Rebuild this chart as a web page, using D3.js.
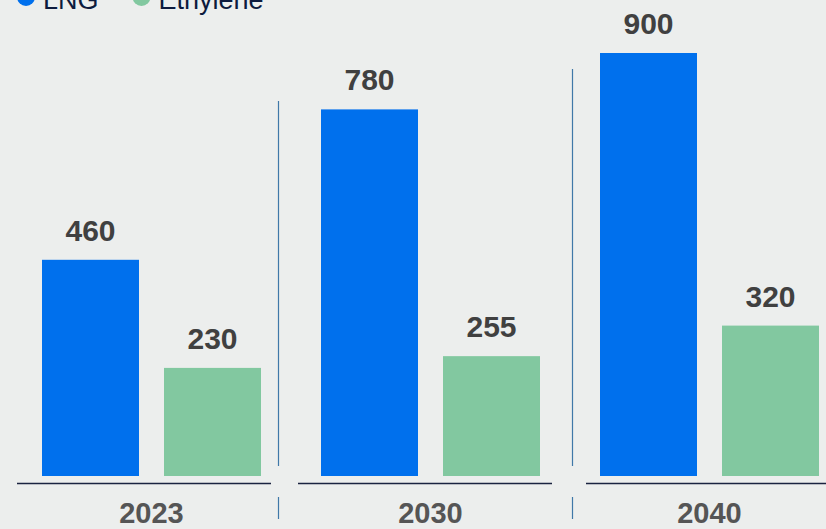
<!DOCTYPE html>
<html>
<head>
<meta charset="utf-8">
<script src="https://cdn.jsdelivr.net/npm/d3@7"></script>
<style>
  body { margin: 0; background: #eceeed; }
  svg { display: block; font-family: "Liberation Sans", Arial, sans-serif; }
</style>
</head>
<body>
<div id="chart"></div>
<script>
// chart values
var years = ["2023", "2030", "2040"];
var series = ["LNG", "Ethylene"];
var lngValues = [460, 780, 900];
var ethyleneValues = [230, 255, 320];
var colors = ["#0070ed", "#82c8a0"];

var svgWidth = 826;
var svgHeight = 529;

var svg = d3.select("#chart")
  .append("svg")
  .attr("width", svgWidth)
  .attr("height", svgHeight);

svg.append("rect")
  .attr("width", svgWidth)
  .attr("height", svgHeight)
  .attr("fill", "#eceeed");

var data = years.map(function(y, i) {
  return { year: y, values: [lngValues[i], ethyleneValues[i]] };
});

// group scale
var x0 = d3.scaleBand()
  .domain(years)
  .range([42, 819])
  .paddingInner(60 / 279)
  .paddingOuter(0);

var x1 = d3.scaleBand()
  .domain(series)
  .range([0, x0.bandwidth()])
  .paddingInner(25 / 122)
  .paddingOuter(0);

var baseline = 476;
var y = d3.scaleLinear()
  .domain([0, 900])
  .range([baseline, 53]);

// baselines under each group
var axisLines = [[17, 271], [298, 552], [586, 826]];
svg.selectAll(".baseline")
  .data(axisLines)
  .enter()
  .append("line")
  .attr("x1", d => d[0])
  .attr("x2", d => d[1])
  .attr("y1", 483.5)
  .attr("y2", 483.5)
  .attr("stroke", "#1a2340")
  .attr("stroke-width", 1.5);

// separators
var seps = [{ x: 278.5, top: 101 }, { x: 572.5, top: 69 }];
seps.forEach(function(s) {
  svg.append("line")
    .attr("x1", s.x).attr("x2", s.x)
    .attr("y1", s.top).attr("y2", 466)
    .attr("stroke", "#3f78a8").attr("stroke-width", 1.2);
  svg.append("line")
    .attr("x1", s.x).attr("x2", s.x)
    .attr("y1", 497).attr("y2", 519)
    .attr("stroke", "#3f78a8").attr("stroke-width", 1.2);
});

var groups = svg.selectAll(".group")
  .data(data)
  .enter()
  .append("g")
  .attr("transform", d => `translate(${x0(d.year)}, 0)`);

groups.selectAll("rect")
  .data(d => d.values.map((v, i) => ({ key: series[i], value: v, idx: i })))
  .enter()
  .append("rect")
  .attr("x", d => x1(d.key))
  .attr("y", d => y(d.value))
  .attr("width", x1.bandwidth())
  .attr("height", d => baseline - y(d.value))
  .attr("fill", d => colors[d.idx]);

groups.selectAll(".val")
  .data(d => d.values.map((v, i) => ({ key: series[i], value: v })))
  .enter()
  .append("text")
  .attr("x", d => x1(d.key) + x1.bandwidth() / 2)
  .attr("y", d => y(d.value) - 19)
  .attr("text-anchor", "middle")
  .attr("font-size", "30px")
  .attr("font-weight", "bold")
  .attr("fill", "#404040")
  .text(d => d.value);

groups.append("text")
  .attr("x", x0.bandwidth() / 2)
  .attr("y", 523)
  .attr("text-anchor", "middle")
  .attr("font-size", "29px")
  .attr("font-weight", "bold")
  .attr("fill", "#555555")
  .text(d => d.year);

// legend (cut off at top)
var legendX = [26, 141.5];
var legend = svg.selectAll(".legend")
  .data(series)
  .enter()
  .append("g");

legend.append("circle")
  .attr("cx", (d, i) => legendX[i])
  .attr("cy", -3)
  .attr("r", 9)
  .attr("fill", (d, i) => colors[i]);

legend.append("text")
  .attr("x", (d, i) => legendX[i] + 17)
  .attr("y", 9)
  .attr("font-size", "27px")
  .attr("fill", "#0d1b3e")
  .text(d => d);
</script>
</body>
</html>
